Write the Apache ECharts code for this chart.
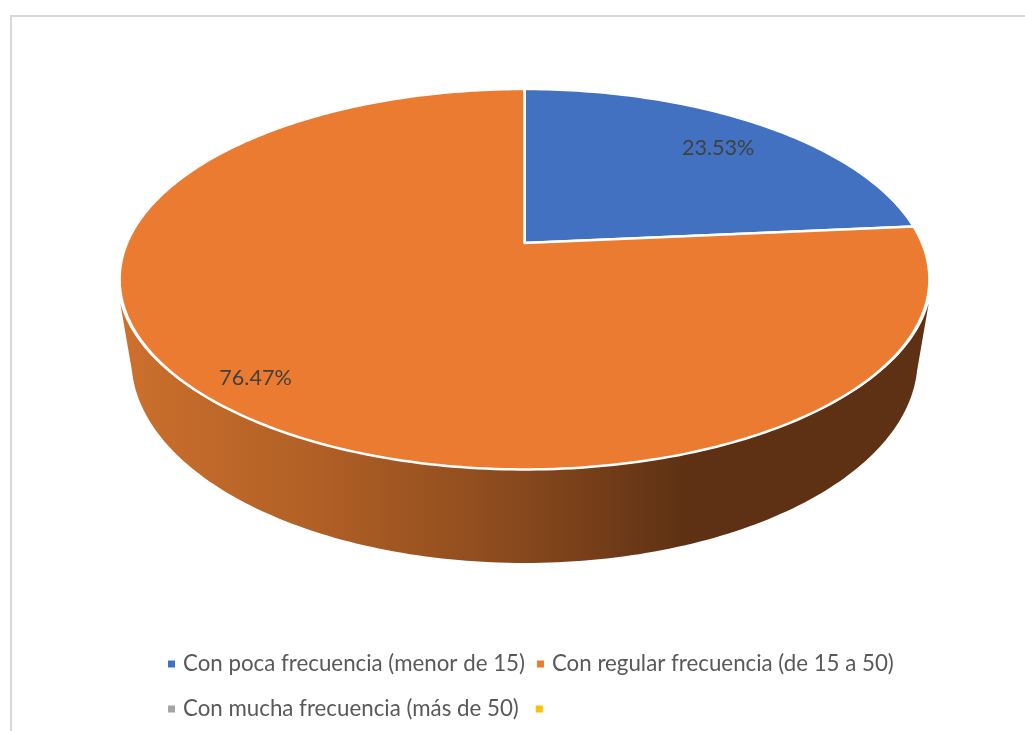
<!DOCTYPE html>
<html>
<head>
<meta charset="utf-8">
<style>
  html, body { margin: 0; padding: 0; background: #fff; }
  #main { width: 1025px; height: 731px; }
</style>
<script src="https://cdn.jsdelivr.net/npm/echarts@6/dist/echarts.min.js"></script>
</head>
<body>
<div id="main"></div>
<script>
// datos del grafico
const categories = [
  'Con poca frecuencia (menor de 15)',
  'Con regular frecuencia (de 15 a 50)',
  'Con mucha frecuencia (más de 50)',
  ' '
]
const values = [4, 13, 0, 0]
const colors = ['#4371C1', '#EB7B31', '#A5A5A5', '#FFC000']

const total = values.reduce((a, b) => a + b, 0)
const fontName = 'Lato'

// perspectiva del disco: cara superior e inferior
const topDisc = { x: 524.5, y: 243, a: 397.5, b: 183.3, k: 0.1905 }
const bottomDisc = { x: 524.5, y: 321.3, a: 385.9, b: 195.6, k: 0.1905 }
// borde superior de la pared, algo mas ancho para que asome en las esquinas
const wallDisc = { x: 524.5, y: 243, a: 400, b: 183.3, k: 0.1905 }
// tramo visible de la pared lateral, en grados
const wallFrom = 108
const wallTo = 252
const wallBottomFrom = 104
const wallBottomTo = 256
// distancia de la etiqueta al centro y ajuste vertical, por sector
const labelRadius = [0.805, 0.88, 0.8, 0.8]
const labelShiftY = [2.5, -1, 0, 0]

const wallGradient = {
  type: 'linear',
  x: 121,
  y: 0,
  x2: 928,
  y2: 0,
  global: true,
  colorStops: [
    { offset: 0, color: '#CC702D' },
    { offset: 0.25, color: '#B05F25' },
    { offset: 0.48, color: '#8A4A1D' },
    { offset: 0.7, color: '#5E3114' },
    { offset: 1, color: '#5E3114' }
  ]
}

// angulo en grados, 0 arriba y sentido horario
function project (disc, deg, r) {
  const rad = deg * Math.PI / 180
  const s = Math.sin(rad) * r
  const c = Math.cos(rad) * r
  const w = 1 + disc.k * c
  return [disc.x + disc.a * s / w, disc.y - disc.b * c / w]
}

function arcPoints (disc, from, to) {
  const pts = []
  const steps = Math.max(1, Math.ceil(to - from))
  for (let i = 0; i <= steps; i++) {
    pts.push(project(disc, from + (to - from) * i / steps, 1))
  }
  return pts
}

function renderSlice (index) {
  return function (params, api) {
    const value = api.value(0)
    if (!value) return { type: 'group', children: [] }
    const before = values.slice(0, index).reduce((a, b) => a + b, 0)
    const start = before / total * 360
    const end = (before + value) / total * 360
    const children = []

    // pared lateral
    const wStart = Math.max(start, wallFrom)
    const wEnd = Math.min(end, wallTo)
    if (wEnd > wStart) {
      const bStart = Math.max(start, wallBottomFrom)
      const bEnd = Math.min(end, wallBottomTo)
      children.push({
        type: 'polygon',
        shape: {
          points: arcPoints(bottomDisc, bStart, bEnd)
            .concat(arcPoints(wallDisc, wStart, wEnd).reverse())
        },
        style: { fill: wallGradient }
      })
    }

    // cara superior
    children.push({
      type: 'polygon',
      shape: {
        points: [project(topDisc, 0, 0)].concat(arcPoints(topDisc, start, end))
      },
      style: { fill: colors[index], stroke: '#fff', lineWidth: 2.5, lineJoin: 'round' }
    })

    // etiqueta
    const pos = project(topDisc, (start + end) / 2, labelRadius[index])
    children.push({
      type: 'text',
      x: pos[0],
      y: pos[1] + labelShiftY[index],
      style: {
        text: (value / total * 100).toFixed(2) + '%',
        fill: '#404040',
        font: '21.6px ' + fontName,
        align: 'center',
        verticalAlign: 'middle'
      }
    })
    return { type: 'group', children: children }
  }
}

const chart = echarts.init(document.getElementById('main'), null, { renderer: 'canvas' })

const legendBase = {
  orient: 'horizontal',
  icon: 'rect',
  itemWidth: 7,
  itemHeight: 7,
  selectedMode: false,
  left: 163,
  itemGap: 12,
  textStyle: {
    fontFamily: fontName,
    fontSize: 22.3,
    color: '#595959',
    padding: [0, 0, 0, 3]
  }
}

chart.setOption({
  animation: false,
  backgroundColor: '#fff',
  legend: [
    Object.assign({}, legendBase, { top: 648, data: categories.slice(0, 2) }),
    Object.assign({}, legendBase, { top: 693, itemGap: 17, data: categories.slice(2) })
  ],
  graphic: [
    {
      type: 'polyline',
      silent: true,
      shape: { points: [[11, 731], [11, 16], [1025, 16]] },
      style: { fill: 'none', stroke: '#D9D9D9', lineWidth: 2 }
    }
  ],
  series: categories.map((name, index) => ({
    type: 'custom',
    name: name,
    coordinateSystem: 'none',
    itemStyle: { color: colors[index] },
    renderItem: renderSlice(index),
    data: [values[index]]
  }))
})
</script>
</body>
</html>
